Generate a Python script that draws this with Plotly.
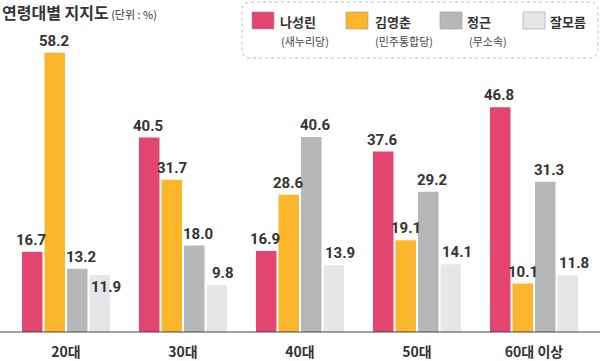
import plotly.graph_objects as go

categories = ["20대", "30대", "40대", "50대", "60대 이상"]
series_names = ["나성린", "김영춘", "정근", "잘모름"]
series_sub = ["(새누리당)", "(민주통합당)", "(무소속)", ""]
na_vals = [16.7, 40.5, 16.9, 37.6, 46.8]
kim_vals = [58.2, 31.7, 28.6, 19.1, 10.1]
jung_vals = [13.2, 18.0, 40.6, 29.2, 31.3]
unk_vals = [11.9, 9.8, 13.9, 14.1, 11.8]
colors = ["#E2456F", "#FBB62B", "#B6B7B9", "#E5E6E8"]

W, H = 600, 361
NUM_FONT = "Roboto, Liberation Sans, sans-serif"
KR_FONT = "Noto Sans CJK KR, sans-serif"

def px(x):
    return x / W

def py(y):
    return 1 - y / H

all_vals = [na_vals, kim_vals, jung_vals, unk_vals]

fig = go.Figure()
for name, vals, c in zip(series_names, all_vals, colors):
    fig.add_trace(go.Bar(
        x=categories, y=vals, name=name, marker_color=c, marker_line_width=0,
        hoverinfo="x+y+name",
    ))

base_y = 332
top_y = 40
ymax = (base_y - top_y) / 4.8
slot_px = 117 * (1 - 0.23) / 4  # bar slot width in pixels
label_nudge = [-1, 0, 4, 6]

annotations = []
for i, vals in enumerate(all_vals):
    for j, (cat, v) in enumerate(zip(categories, vals)):
        inside = (i == 3 and j == 0)  # label placed over bar top in the original to avoid overlap
        annotations.append(dict(
            x=cat, y=v, xref="x", yref="y", showarrow=False,
            xanchor="center", yanchor="top" if inside else "bottom",
            xshift=(i - 1.5) * slot_px + label_nudge[i], yshift=-1 if inside else 1,
            text=f"<b>{v:.1f}</b>",
            font=dict(family=NUM_FONT, size=15, color="#333333"),
        ))

fig.update_layout(
    width=W, height=H, margin=dict(l=0, r=0, t=0, b=0),
    paper_bgcolor="white", plot_bgcolor="white",
    barmode="group", bargap=0.23, bargroupgap=0.09,
    showlegend=False,
    xaxis=dict(domain=[px(7.5), px(592.5)], showgrid=False, showline=False, ticks="",
               tickfont=dict(family=KR_FONT, size=14, color="#333333", weight=600),
               ticklabelstandoff=10),
    yaxis=dict(domain=[py(base_y), py(top_y)], range=[0, ymax], visible=False),
)

shapes = []
shapes.append(dict(type="line", xref="paper", yref="paper", x0=0, x1=1, y0=py(base_y), y1=py(base_y),
                   line=dict(color="#444444", width=1.2)))
x0, x1, y0, y1, r = 242, 598, 2, 58, 9
path = (f"M {px(x0+r)},{py(y0)} L {px(x1-r)},{py(y0)} Q {px(x1)},{py(y0)} {px(x1)},{py(y0+r)} "
        f"L {px(x1)},{py(y1-r)} Q {px(x1)},{py(y1)} {px(x1-r)},{py(y1)} "
        f"L {px(x0+r)},{py(y1)} Q {px(x0)},{py(y1)} {px(x0)},{py(y1-r)} "
        f"L {px(x0)},{py(y0+r)} Q {px(x0)},{py(y0)} {px(x0+r)},{py(y0)} Z")
shapes.append(dict(type="path", xref="paper", yref="paper", path=path,
                   line=dict(color="#BDBDBD", width=1, dash="dot"), fillcolor="white", layer="below"))

sw_x = [252, 346, 440, 523]
txt_x = [278, 373, 465, 548]
sub_x = [279, 373, 467, 548]
for i in range(4):
    shapes.append(dict(type="rect", xref="paper", yref="paper",
                       x0=px(sw_x[i]), x1=px(sw_x[i] + 22), y0=py(29), y1=py(12),
                       fillcolor=colors[i], line=dict(color="#9A9A9A", width=0.6)))
    annotations.append(dict(xref="paper", yref="paper", x=px(txt_x[i]), y=py(21),
                            xanchor="left", yanchor="middle", showarrow=False,
                            text=f"<b>{series_names[i]}</b>",
                            font=dict(family=KR_FONT, size=13, color="#333333")))
    if series_sub[i]:
        annotations.append(dict(xref="paper", yref="paper", x=px(sub_x[i]), y=py(41),
                                xanchor="left", yanchor="middle", showarrow=False,
                                text=series_sub[i],
                                font=dict(family=KR_FONT, size=11, color="#444444")))

annotations.append(dict(xref="paper", yref="paper", x=0.0, y=py(12), xanchor="left", yanchor="middle",
                        showarrow=False,
                        text="<b>연령대별 지지도</b><span style='font-size:11px'> (단위 : %)</span>",
                        font=dict(family=KR_FONT, size=16, color="#333333")))

fig.update_layout(shapes=shapes, annotations=annotations)
fig.write_html("out.html", config={"displayModeBar": False},
               post_script="document.body.style.margin='0';document.body.style.overflow='hidden';")
